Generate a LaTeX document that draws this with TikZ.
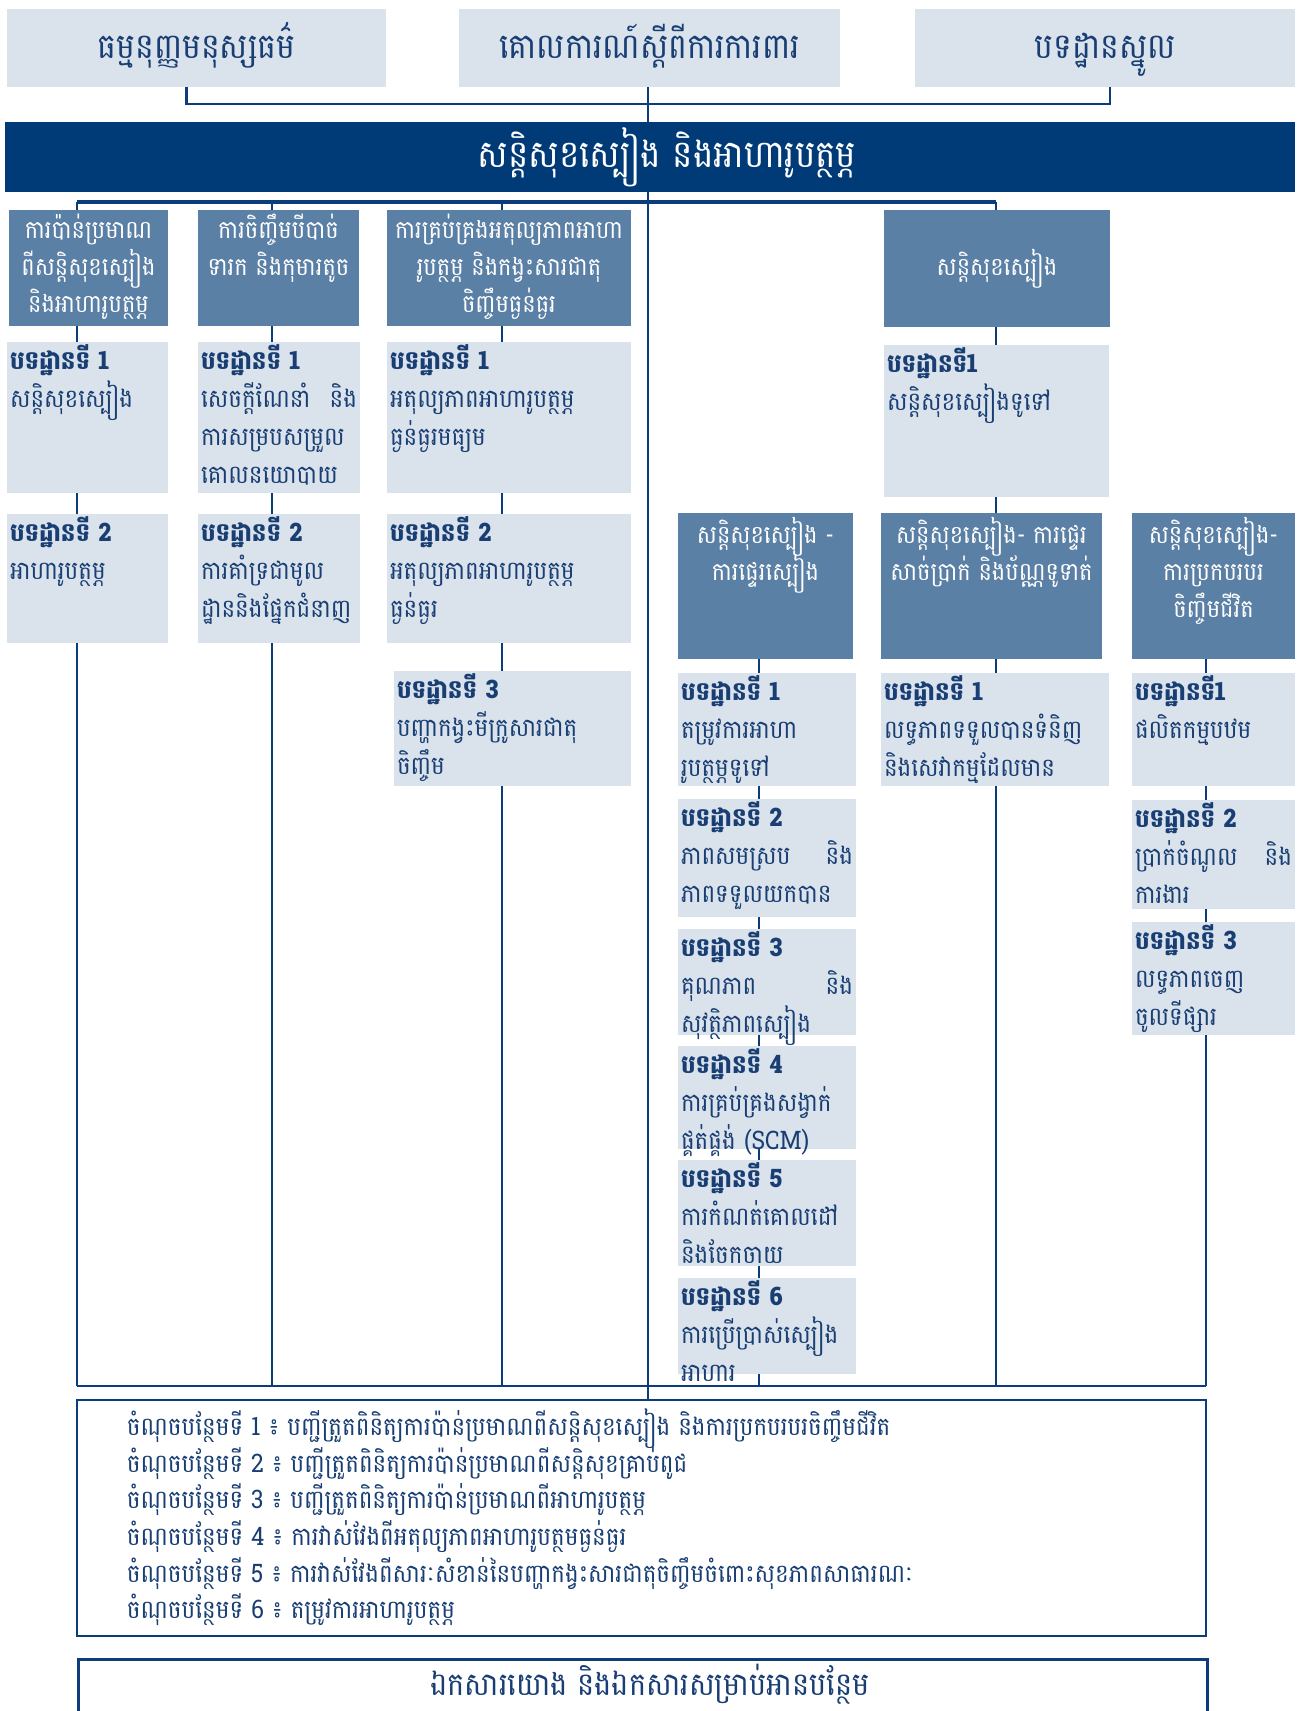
\documentclass[tikz,border=0pt]{standalone}
\usepackage{fontspec}
\usepackage{tikz}
\usetikzlibrary{backgrounds}
\newfontfamily\khmer[Script=Khmer,FakeStretch=0.9]{Battambang}
\newcommand{\tightskip}{\lineskiplimit=-50pt\relax}
\definecolor{lightbox}{RGB}{218,226,235}
\definecolor{midbox}{RGB}{91,128,166}
\definecolor{darkbar}{RGB}{0,59,120}
\definecolor{linkblue}{RGB}{11,61,122}
\definecolor{inkblue}{RGB}{24,62,116}
\tikzstyle{topbox} = [fill=lightbox, text=inkblue, inner sep=0pt, text height=28pt, text depth=8pt, font=\khmer\fontsize{35}{40}\selectfont]
\tikzstyle{mainbar} = [fill=darkbar, inner sep=0pt]
\tikzstyle{maintext} = [text=white, inner sep=0pt, text height=28pt, text depth=8pt, font=\khmer\fontsize{38}{42}\selectfont]
\tikzstyle{headbox} = [fill=midbox, text=white, inner sep=0pt, font=\khmer\fontsize{25}{37}\selectfont]
\tikzstyle{headtext} = [anchor=north, align=center, text=white, inner sep=4pt, font=\khmer\fontsize{25}{37}\selectfont\tightskip]
\tikzstyle{stepbox} = [fill=lightbox, inner sep=0pt]
\tikzstyle{steptext} = [anchor=north west, align=left, text=inkblue, inner sep=3pt, font=\khmer\fontsize{25.5}{38}\selectfont\tightskip]
\tikzstyle{link} = [linkblue, line width=2.5pt]

\begin{document}
\begin{tikzpicture}[x=1pt,y=-1pt]
\useasboundingbox (0,0) rectangle (1301,1711);

% top row
\node[topbox, minimum width=379pt, minimum height=78pt] (charter) at (196.5,48) {ធម្មនុញ្ញមនុស្សធម៌};
\node[topbox, minimum width=381pt, minimum height=78pt] (protect) at (649.5,48) {គោលការណ៍ស្តីពីការការពារ};
\node[topbox, minimum width=380pt, minimum height=78pt] (core) at (1105,48) {បទដ្ឋានស្នូល};
\node[mainbar, minimum width=1290pt, minimum height=70pt, label={[maintext, xshift=17pt]center:{សន្តិសុខស្បៀង និងអាហារូបត្ថម្ភ}}] (main) at (650,157) {};

% headers
\node[headbox, minimum width=159pt, minimum height=116pt, label={[headtext]north:{ការប៉ាន់ប្រមាណ\\ពីសន្តិសុខស្បៀង\\និងអាហារូបត្ថម្ភ}}] (assess) at (88.5,268) {};
\node[headbox, minimum width=161pt, minimum height=116pt, label={[headtext]north:{ការចិញ្ចឹមបីបាច់\\ទារក និងកុមារតូច}}] (feeding) at (278.5,268) {};
\node[headbox, minimum width=244pt, minimum height=116pt, label={[headtext]north:{ការគ្រប់គ្រងអតុល្យភាពអាហា\\រូបត្ថម្ភ និងកង្វះសារជាតុ\\ចិញ្ចឹមធ្ងន់ធ្ងរ}}] (malnut) at (509,268) {};
\node[headbox, minimum width=226pt, minimum height=117pt] (foodsec) at (997,268.5) {សន្តិសុខស្បៀង};

% column 1 and 2
\node[stepbox, minimum width=161pt, minimum height=151pt, label={[steptext, text width=155pt]north west:{\textbf{បទដ្ឋានទី 1}\\សន្តិសុខស្បៀង}}] (assess1) at (87.5,417.5) {};
\node[stepbox, minimum width=161pt, minimum height=129pt, label={[steptext, text width=155pt]north west:{\textbf{បទដ្ឋានទី 2}\\អាហារូបត្ថម្ភ}}] (assess2) at (87.5,578.5) {};
\node[stepbox, minimum width=162pt, minimum height=151pt, label={[steptext, text width=156pt]north west:{\textbf{បទដ្ឋានទី 1}\\សេចក្តីណែនាំ\hfill និង\\ការសម្របសម្រួល\\គោលនយោបាយ}}] (feed1) at (279,417.5) {};
\node[stepbox, minimum width=162pt, minimum height=129pt, label={[steptext, text width=156pt]north west:{\textbf{បទដ្ឋានទី 2}\\ការគាំទ្រជាមូល\\ដ្ឋាននិងផ្នែកជំនាញ}}] (feed2) at (279,578.5) {};

% column 3
\node[stepbox, minimum width=244pt, minimum height=151pt, label={[steptext, text width=238pt]north west:{\textbf{បទដ្ឋានទី 1}\\អតុល្យភាពអាហារូបត្ថម្ភ\\ធ្ងន់ធ្ងរមធ្យម}}] (malnut1) at (509,417.5) {};
\node[stepbox, minimum width=244pt, minimum height=129pt, label={[steptext, text width=238pt]north west:{\textbf{បទដ្ឋានទី 2}\\អតុល្យភាពអាហារូបត្ថម្ភ\\ធ្ងន់ធ្ងរ}}] (malnut2) at (509,578.5) {};
\node[stepbox, minimum width=237pt, minimum height=115pt, label={[steptext, text width=231pt]north west:{\textbf{បទដ្ឋានទី 3}\\បញ្ហាកង្វះមីក្រូសារជាតុ\\ចិញ្ចឹម}}] (malnut3) at (512.5,728.5) {};

% food security
\node[stepbox, minimum width=225pt, minimum height=152pt, label={[steptext, text width=219pt]north west:{\textbf{បទដ្ឋានទី1}\\សន្តិសុខស្បៀងទូទៅ}}] (foodsec1) at (996.5,421) {};
\node[headbox, minimum width=175pt, minimum height=146pt, label={[headtext]north:{សន្តិសុខស្បៀង -\\ការផ្ទេរស្បៀង}}] (transfer) at (765.5,586) {};
\node[headbox, minimum width=221pt, minimum height=146pt, label={[headtext]north:{សន្តិសុខស្បៀង- ការផ្ទេរ\\សាច់ប្រាក់ និងប័ណ្ណទូទាត់}}] (cash) at (991.5,586) {};
\node[headbox, minimum width=163pt, minimum height=146pt, label={[headtext]north:{សន្តិសុខស្បៀង-\\ការប្រកបរបរ\\ចិញ្ចឹមជីវិត}}] (livelihood) at (1213.5,586) {};

\node[stepbox, minimum width=178pt, minimum height=113pt, label={[steptext, text width=172pt]north west:{\textbf{បទដ្ឋានទី 1}\\តម្រូវការអាហា\\រូបត្ថម្ភទូទៅ}}] (transfer1) at (767,729.5) {};
\node[stepbox, minimum width=178pt, minimum height=118pt, label={[steptext, text width=172pt]north west:{\textbf{បទដ្ឋានទី 2}\\ភាពសមស្រប\hfill និង\\ភាពទទួលយកបាន}}] (transfer2) at (767,858) {};
\node[stepbox, minimum width=178pt, minimum height=106pt, label={[steptext, text width=172pt]north west:{\textbf{បទដ្ឋានទី 3}\\គុណភាព\hfill និង\\សុវត្ថិភាពស្បៀង}}] (transfer3) at (767,982) {};
\node[stepbox, minimum width=178pt, minimum height=103pt, label={[steptext, text width=172pt]north west:{\textbf{បទដ្ឋានទី 4}\\ការគ្រប់គ្រងសង្វាក់\\ផ្គត់ផ្គង់ (SCM)}}] (transfer4) at (767,1097.5) {};
\node[stepbox, minimum width=178pt, minimum height=106pt, label={[steptext, text width=172pt]north west:{\textbf{បទដ្ឋានទី 5}\\ការកំណត់គោលដៅ\\និងចែកចាយ}}] (transfer5) at (767,1213) {};
\node[stepbox, minimum width=178pt, minimum height=96pt, label={[steptext, text width=172pt]north west:{\textbf{បទដ្ឋានទី 6}\\ការប្រើប្រាស់ស្បៀង\\អាហារ}}] (transfer6) at (767,1326) {};

\node[stepbox, minimum width=228pt, minimum height=113pt, label={[steptext, text width=222pt]north west:{\textbf{បទដ្ឋានទី 1}\\លទ្ធភាពទទួលបានទំនិញ\\និងសេវាកម្មដែលមាន}}] (cash1) at (995,729.5) {};

\node[stepbox, minimum width=163pt, minimum height=113pt, label={[steptext, text width=157pt]north west:{\textbf{បទដ្ឋានទី1}\\ផលិតកម្មបឋម}}] (live1) at (1213.5,729.5) {};
\node[stepbox, minimum width=163pt, minimum height=109pt, label={[steptext, text width=157pt]north west:{\textbf{បទដ្ឋានទី 2}\\ប្រាក់ចំណូល\hfill និង\\ការងារ}}] (live2) at (1213.5,854.5) {};
\node[stepbox, minimum width=163pt, minimum height=113pt, label={[steptext, text width=157pt]north west:{\textbf{បទដ្ឋានទី 3}\\លទ្ធភាពចេញ\\ចូលទីផ្សារ}}] (live3) at (1213.5,978.5) {};

% appendices and references
\node[draw=linkblue, line width=2.5pt, minimum width=1129pt, minimum height=236pt] (notes) at (641.5,1518) {};
\node[anchor=north west, align=left, text=inkblue, inner sep=0pt, font=\khmer\fontsize{25.5}{36.6}\selectfont\tightskip] (notelist) at ([xshift=51pt,yshift=-10pt]notes.north west) {ចំណុចបន្ថែមទី 1 ៖ បញ្ជីត្រួតពិនិត្យការប៉ាន់ប្រមាណពីសន្តិសុខស្បៀង និងការប្រកបរបរចិញ្ចឹមជីវិត\\
ចំណុចបន្ថែមទី 2 ៖ បញ្ជីត្រួតពិនិត្យការប៉ាន់ប្រមាណពីសន្តិសុខគ្រាប់ពូជ\\
ចំណុចបន្ថែមទី 3 ៖ បញ្ជីត្រួតពិនិត្យការប៉ាន់ប្រមាណពីអាហារូបត្ថម្ភ\\
ចំណុចបន្ថែមទី 4 ៖ ការវាស់វែងពីអតុល្យភាពអាហារូបត្ថមធ្ងន់ធ្ងរ\\
ចំណុចបន្ថែមទី 5 ៖ ការវាស់វែងពីសារៈសំខាន់នៃបញ្ហាកង្វះសារជាតុចិញ្ចឹមចំពោះសុខភាពសាធារណៈ\\
ចំណុចបន្ថែមទី 6 ៖ តម្រូវការអាហារូបត្ថម្ភ};
\node[draw=linkblue, line width=3pt, minimum width=1129pt, minimum height=80pt, anchor=north west] (reading) at (77,1658) {};
\node[text=inkblue, font=\khmer\fontsize{32}{36}\selectfont] (readtitle) at (650,1684) {ឯកសារយោង និងឯកសារសម្រាប់អានបន្ថែម};

% column lines
\coordinate (bus1) at (77,202);
\coordinate (bus2) at (272,202);
\coordinate (bus3) at (502,202);
\coordinate (bus5) at (996,202);
\coordinate (foot1) at (77,1386);
\coordinate (foot2) at (272,1386);
\coordinate (foot3) at (502,1386);
\coordinate (footA) at (759,1386);
\coordinate (foot5) at (996,1386);
\coordinate (footC) at (1206,1386);

\begin{scope}[on background layer]
\draw[link] ([xshift=-10pt]charter.south) -- ++(0,17) -| ([xshift=5pt]core.south);
\draw[link] ([xshift=-1.5pt]protect.south) -- ([xshift=-1.5pt]protect.south |- notes.north);
\draw[link, line width=3.5pt] (bus1) -- (bus5);
\draw[link] (bus1) -- (foot1);
\draw[link] (bus2) -- (foot2);
\draw[link] (bus3) -- (foot3);
\draw[link] (bus5) -- (foot5);
\draw[link] (transfer -| footA) -- (footA);
\draw[link] (livelihood -| footC) -- (footC);
\draw[link] (foot1) -- (footC);
\end{scope}
\end{tikzpicture}
\end{document}
